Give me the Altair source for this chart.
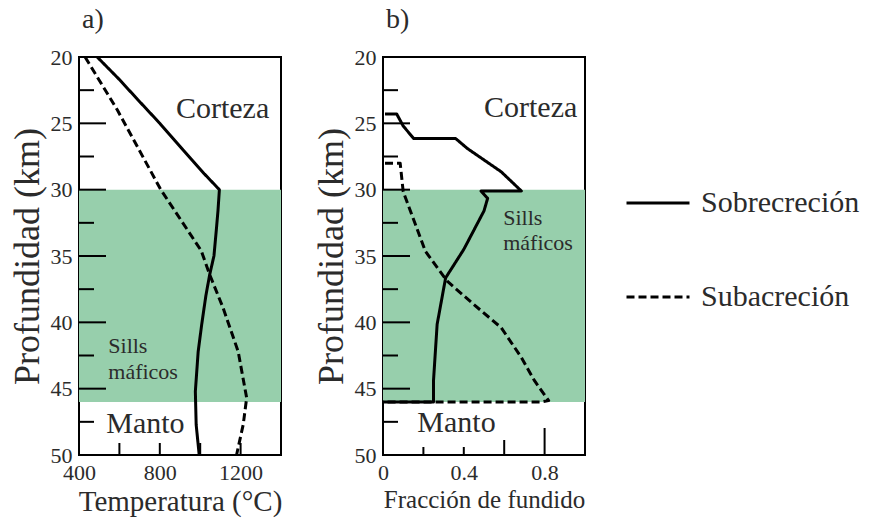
import altair as alt
import pandas as pd

# ---------------- data ----------------
series_names = ["Sobrecreción", "Subacreción"]

# Panel a: temperature (°C) vs depth (km)
a_sobre_depth = [20, 21.7, 23.2, 25, 27, 28.8, 30, 31.6, 33, 35, 36.4, 38, 40.1, 42.2, 45.2, 47.7, 50]
a_sobre_temp = [490, 600, 690, 800, 915, 1020, 1095, 1088, 1080, 1068, 1047, 1028, 1008, 990, 976, 980, 995]
a_sub_depth = [20, 24, 30, 34.6, 36.4, 38.9, 42.2, 45.7, 47.7, 50]
a_sub_temp = [430, 590, 805, 1005, 1047, 1113, 1188, 1230, 1213, 1180]

# Panel b: melt fraction vs depth (km)
b_sobre_depth = [24.3, 24.3, 25.2, 26.15, 26.15, 26.9, 28.65, 30.1, 30.1, 30.65, 31.6, 34.5, 36.65, 40.15, 44.4, 46.0, 46.0]
b_sobre_frac = [0.01, 0.068, 0.10, 0.152, 0.36, 0.418, 0.585, 0.685, 0.485, 0.518, 0.50, 0.40, 0.31, 0.268, 0.25, 0.25, 0.0]
b_sub_depth = [28.0, 28.0, 30.15, 34.65, 36.9, 38.66, 40.4, 42.65, 44.4, 45.9, 46.0, 46.0]
b_sub_frac = [0.01, 0.085, 0.10, 0.21, 0.318, 0.45, 0.585, 0.685, 0.75, 0.82, 0.785, 0.0]

# mafic sill band (km)
band_top = 30
band_bottom = 46

# axes
depth_domain = [20, 50]
depth_labels = [20, 25, 30, 35, 40, 45, 50]
depth_minor = [22.5, 27.5, 32.5, 37.5, 42.5, 47.5]
temp_domain = [400, 1400]
temp_labels = [400, 800, 1200]
temp_ticks = [400, 600, 800, 1000, 1200]
frac_domain = [0, 1]
frac_labels = [0, 0.4, 0.8]
frac_ticks_short = [0.2, 0.4]
frac_ticks_mid = [0.6]
frac_ticks_long = [0.8]

# annotations (left edge value, baseline depth)
a_ann_text = ["Corteza", "Manto"]
a_ann_val = [880, 535]
a_ann_depth = [24.6, 48.35]
a_sill_text = ["Sills", "máficos"]
a_sill_val = [545, 545]
a_sill_depth = [42.3, 44.26]
b_ann_text = ["Corteza", "Manto"]
b_ann_val = [0.50, 0.17]
b_ann_depth = [24.5, 48.3]
b_sill_text = ["Sills", "máficos"]
b_sill_val = [0.595, 0.595]
b_sill_depth = [32.7, 34.55]

# ---------------- style ----------------
FONT = "Liberation Serif"
TXT = "#2b2b2b"
GREEN = "#97cfac"
W, H = 202, 398


def lines_df(d1, v1, d2, v2):
    rows = []
    for i, (d, v) in enumerate(zip(d1, v1)):
        rows.append({"serie": series_names[0], "depth": d, "val": v, "i": i})
    for i, (d, v) in enumerate(zip(d2, v2)):
        rows.append({"serie": series_names[1], "depth": d, "val": v, "i": i})
    return pd.DataFrame(rows)


def panel(title, ldf, xdomain, xlabels, xtitle, xtitle_size, xtick_groups,
          ann_text, ann_val, ann_depth, sill_text, sill_val, sill_depth, fmt):
    yaxis = alt.Axis(values=depth_labels, ticks=False, domain=False, grid=False,
                     labelFont=FONT, labelFontSize=22, labelColor=TXT, labelPadding=7,
                     labelFlush=False, labelOverlap=False,
                     title="Profundidad (km)", titleFont=FONT, titleFontSize=36,
                     titleFontWeight="normal", titleColor=TXT, titlePadding=4)
    xaxis = alt.Axis(values=xlabels, ticks=False, domain=False, grid=False,
                     labelFont=FONT, labelFontSize=22, labelColor=TXT, labelPadding=7,
                     labelFlush=False, labelOverlap=False, format=fmt,
                     title=xtitle, titleFont=FONT, titleFontSize=xtitle_size,
                     titleFontWeight="normal", titleColor=TXT, titlePadding=4)
    Y = alt.Y("depth:Q", scale=alt.Scale(domain=depth_domain, reverse=True, nice=False, zero=False),
              axis=yaxis)
    X = alt.X("val:Q", scale=alt.Scale(domain=xdomain, nice=False, zero=False), axis=xaxis)

    band = alt.Chart(pd.DataFrame({"depth": [band_top], "depth2": [band_bottom]})).mark_rect(
        color=GREEN).encode(y=Y, y2="depth2:Q", x=alt.value(0), x2=alt.value(W))

    layers = [band]
    ymaj = alt.Chart(pd.DataFrame({"depth": depth_labels})).mark_rule(
        color="black", strokeWidth=2).encode(y=Y, x=alt.value(0), x2=alt.value(27))
    ymin = alt.Chart(pd.DataFrame({"depth": depth_minor})).mark_rule(
        color="black", strokeWidth=2).encode(y=Y, x=alt.value(0), x2=alt.value(15))
    layers += [ymaj, ymin]
    for vals, ln in xtick_groups:
        layers.append(alt.Chart(pd.DataFrame({"val": vals})).mark_rule(
            color="black", strokeWidth=2).encode(x=X, y=alt.value(H), y2=alt.value(H - ln)))

    ann = alt.Chart(pd.DataFrame({"t": ann_text, "val": ann_val, "depth": ann_depth})).mark_text(
        font=FONT, fontSize=30, color=TXT, align="left", baseline="alphabetic").encode(
        x=X, y=Y, text="t:N")
    sill = alt.Chart(pd.DataFrame({"t": sill_text, "val": sill_val, "depth": sill_depth})).mark_text(
        font=FONT, fontSize=22, color=TXT, align="left", baseline="alphabetic").encode(
        x=X, y=Y, text="t:N")
    layers += [ann, sill]

    line = alt.Chart(ldf).mark_line(color="black", strokeWidth=3, clip=True,
                                    strokeJoin="round").encode(
        x=X, y=Y, order="i:Q",
        strokeDash=alt.StrokeDash(
            "serie:N",
            scale=alt.Scale(domain=series_names, range=[[1, 0], [8, 4]]),
            legend=alt.Legend(orient="none", legendX=546, legendY=113, title=None,
                              symbolType="stroke", symbolSize=3969, symbolStrokeWidth=3,
                              symbolStrokeColor="black", labelFont=FONT, labelFontSize=30,
                              labelColor=TXT, labelOffset=10, rowPadding=46, padding=0)))
    layers.append(line)

    return alt.layer(*layers).properties(
        width=W, height=H,
        title=alt.TitleParams(title, anchor="start", frame="group", font=FONT, fontSize=28,
                              fontWeight="normal", color=TXT, offset=12, dx=3))


pa = panel("a)", lines_df(a_sobre_depth, a_sobre_temp, a_sub_depth, a_sub_temp),
           temp_domain, temp_labels, "Temperatura (°C)", 29,
           [(temp_ticks, 12)],
           a_ann_text, a_ann_val, a_ann_depth, a_sill_text, a_sill_val, a_sill_depth, "d")
pb = panel("b)", lines_df(b_sobre_depth, b_sobre_frac, b_sub_depth, b_sub_frac),
           frac_domain, frac_labels, "Fracción de fundido", 25,
           [(frac_ticks_short, 8), (frac_ticks_mid, 15), (frac_ticks_long, 27)],
           b_ann_text, b_ann_val, b_ann_depth, b_sill_text, b_sill_val, b_sill_depth, "~g")

chart = alt.hconcat(pa, pb, spacing=102, bounds="flush").properties(
    padding={"left": 79, "top": 57, "right": 790, "bottom": 465},
    autosize=alt.AutoSizeParams(type="none"),
    background="white",
).configure_view(stroke="black", strokeWidth=2)

chart.save("out.html", embed_options={"renderer": "svg", "actions": False})
